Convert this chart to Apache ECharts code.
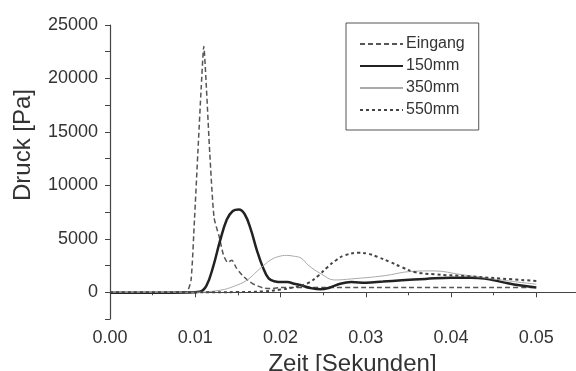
<!DOCTYPE html>
<html>
<head>
<meta charset="utf-8">
<script src="https://cdn.jsdelivr.net/npm/echarts@6/dist/echarts.min.js"></script>
<style>
  html, body { margin: 0; padding: 0; background: #fff; }
  #container { width: 576px; height: 371px; }
</style>
</head>
<body>
<div id="container"></div>
<script>
// values (time in s, pressure in Pa)
var eingangT = [0, 0.005, 0.008, 0.009, 0.0095, 0.0099, 0.0103, 0.0107, 0.011, 0.0113, 0.0117, 0.0122, 0.0128, 0.0133, 0.0138, 0.0143, 0.0148, 0.0155, 0.0162, 0.017, 0.018, 0.019, 0.020, 0.025, 0.030, 0.035, 0.040, 0.045, 0.050];
var eingangP = [-50, -50, 0, 50, 1100, 6700, 13000, 19200, 23000, 19200, 13000, 7000, 5200, 3500, 2800, 3000, 2300, 1600, 1100, 700, 400, 350, 450, 450, 450, 450, 450, 450, 450];

var mm150T = [0, 0.005, 0.009, 0.0105, 0.0113, 0.0121, 0.0129, 0.0137, 0.0144, 0.0151, 0.0158, 0.0165, 0.0172, 0.0179, 0.0186, 0.0194, 0.0201, 0.0208, 0.0216, 0.0224, 0.0235, 0.0247, 0.0258, 0.027, 0.0283, 0.030, 0.032, 0.0342, 0.037, 0.040, 0.042, 0.0439, 0.046, 0.048, 0.050];
var mm150P = [-50, -50, -30, 50, 600, 2400, 4800, 6800, 7600, 7750, 7300, 5900, 4000, 2400, 1300, 1000, 950, 950, 800, 650, 400, 280, 450, 800, 950, 900, 1000, 1120, 1250, 1370, 1360, 1280, 950, 650, 450];

var mm350T = [0, 0.010, 0.013, 0.0145, 0.016, 0.0173, 0.0183, 0.019, 0.0198, 0.0207, 0.0215, 0.0224, 0.0233, 0.0248, 0.0263, 0.0283, 0.0322, 0.0353, 0.038, 0.0412, 0.0459, 0.050];
var mm350P = [0, 0, 200, 550, 1100, 2000, 2700, 3100, 3350, 3450, 3380, 3200, 2500, 1700, 1150, 1250, 1550, 1950, 2000, 1650, 1150, 750];

var mm550T = [0, 0.010, 0.015, 0.018, 0.020, 0.0215, 0.0232, 0.0245, 0.0255, 0.0265, 0.0275, 0.0291, 0.0303, 0.0314, 0.0328, 0.0342, 0.0357, 0.038, 0.042, 0.0459, 0.050];
var mm550P = [0, 0, 20, 80, 250, 450, 850, 1600, 2350, 3000, 3450, 3700, 3600, 3300, 2850, 2350, 1900, 1680, 1500, 1280, 1060];

var seriesNames = ['Eingang', '150mm', '350mm', '550mm'];

function pairs(t, p) {
	var out = [];
	for (var i = 0; i < t.length; i++) {
		out.push([t[i], p[i]]);
	}
	return out;
}

var font = '"Liberation Sans", Arial, sans-serif';
var textColor = '#333';

var myChart = echarts.init(document.getElementById('container'));

var option = {
	animation: false,
	backgroundColor: '#fff',
	grid: { left: 110, right: -3, top: 25, bottom: 52, outerBoundsMode: 'none', containLabel: false },
	legend: {
		data: seriesNames,
		orient: 'vertical',
		left: 346,
		top: 23,
		padding: [13, 14, 12, 13],
		itemWidth: 43,
		itemHeight: 10,
		itemGap: 6,
		itemStyle: { opacity: 0 },
		borderColor: '#555',
		borderWidth: 1,
		textStyle: { fontFamily: font, fontSize: 16, color: textColor, padding: [0, 0, 0, -2] }
	},
	xAxis: {
		type: 'value',
		min: 0,
		max: 0.055,
		interval: 0.01,
		name: 'Zeit [Sekunden]',
		nameLocation: 'middle',
		nameGap: 29,
		nameTextStyle: { fontFamily: font, fontSize: 24, color: textColor, padding: [0, 0, 0, 16] },
		axisLine: { lineStyle: { color: '#444', width: 1.2 } },
		axisTick: { length: 5, lineStyle: { color: '#444' } },
		minorTick: { show: true, splitNumber: 2, length: 3, lineStyle: { color: '#444' } },
		splitLine: { show: false },
		axisLabel: {
			fontFamily: font, fontSize: 18, color: textColor, margin: 10,
			showMaxLabel: false,
			formatter: function (v) { return v.toFixed(2); }
		}
	},
	yAxis: {
		type: 'value',
		min: -2500,
		max: 25000,
		interval: 2500,
		name: 'Druck [Pa]',
		nameLocation: 'middle',
		nameGap: 75,
		nameTextStyle: { fontFamily: font, fontSize: 24, color: textColor, padding: [0, 0, 0, 54] },
		axisLine: { show: true, lineStyle: { color: '#444', width: 1.2 } },
		axisTick: { show: true, length: 5, lineStyle: { color: '#444' } },
		splitLine: { show: false },
		axisLabel: {
			fontFamily: font, fontSize: 18, color: textColor, margin: 12,
			formatter: function (v) { return (v >= 0 && v % 5000 === 0) ? String(v) : ''; }
		}
	},
	series: [{
		name: 'Eingang',
		type: 'line',
		data: pairs(eingangT, eingangP),
		showSymbol: false,
		symbol: 'none',
		smooth: 0.2,
		lineStyle: { color: '#555', width: 1.5, type: [5, 3] },
		itemStyle: { color: '#555' }
	}, {
		name: '150mm',
		type: 'line',
		data: pairs(mm150T, mm150P),
		showSymbol: false,
		symbol: 'none',
		smooth: 0.4,
		lineStyle: { color: '#222', width: 2.5 },
		itemStyle: { color: '#222' }
	}, {
		name: '350mm',
		type: 'line',
		data: pairs(mm350T, mm350P),
		showSymbol: false,
		symbol: 'none',
		smooth: 0.4,
		lineStyle: { color: '#aaa', width: 1 },
		itemStyle: { color: '#aaa' }
	}, {
		name: '550mm',
		type: 'line',
		data: pairs(mm550T, mm550P),
		showSymbol: false,
		symbol: 'none',
		smooth: 0.4,
		lineStyle: { color: '#444', width: 2, type: [3, 3] },
		itemStyle: { color: '#444' }
	}]
};

myChart.setOption(option);
</script>
</body>
</html>
